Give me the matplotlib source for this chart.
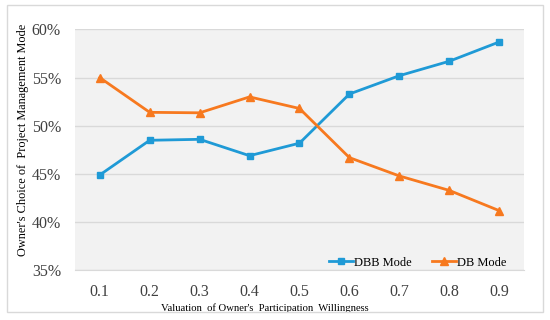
import numpy as np
import matplotlib.pyplot as plt
from matplotlib.patches import Rectangle

plt.rcParams['font.family'] = ['Liberation Serif', 'DejaVu Serif']

# Data
willingness = ["0.1", "0.2", "0.3", "0.4", "0.5", "0.6", "0.7", "0.8", "0.9"]
dbb_mode = [44.9, 48.5, 48.6, 46.9, 48.2, 53.3, 55.2, 56.7, 58.7]
db_mode = [55.0, 51.4, 51.35, 53.0, 51.8, 46.7, 44.8, 43.3, 41.2]

blue = "#1F9AD6"
orange = "#F7791F"

fig = plt.figure(figsize=(5.5, 3.2), dpi=100)
ax = fig.add_axes([0.136, 0.155, 0.817, 0.753])

# outer frame round the whole chart
fig.patches.append(Rectangle((7 / 550, 8 / 320), 536 / 550, 307 / 320,
                             transform=fig.transFigure, fill=False,
                             edgecolor="#D9D9D9", linewidth=1))

x = np.arange(len(willingness))
ax.set_facecolor("#F2F2F2")
ax.plot(x, dbb_mode, color=blue, lw=2, marker="s", ms=5, label="DBB Mode")
ax.plot(x, db_mode, color=orange, lw=2, marker="^", ms=6, label="DB Mode")

ax.set_xlim(-0.5, len(willingness) - 0.5)
ax.set_ylim(35, 60)
ax.set_yticks(np.arange(35, 61, 5))
ax.set_yticklabels([f"{v}%" for v in range(35, 61, 5)])
ax.set_xticks(x)
ax.set_xticklabels(willingness)
ax.tick_params(length=0, labelsize=11.5, colors="#404040", pad=10)
ax.grid(axis="y", color="#D9D9D9", lw=1)
ax.set_axisbelow(True)
for s in ["top", "right", "left"]:
    ax.spines[s].set_visible(False)
ax.spines["bottom"].set_color("#D9D9D9")

ax.set_xlabel("Valuation  of Owner's  Participation  Willingness", fontsize=7.7)
ax.xaxis.set_label_coords(0.423, -0.135)
ax.set_ylabel("Owner's Choice of  Project Management Mode", fontsize=8.8)
ax.yaxis.set_label_coords(-0.103, 0.54)

ax.legend(loc="lower right", ncol=2, frameon=False, fontsize=9,
          handlelength=1.9, handletextpad=0.1, columnspacing=1.6,
          bbox_to_anchor=(0.985, -0.04))

plt.savefig("out.png", dpi=100)
